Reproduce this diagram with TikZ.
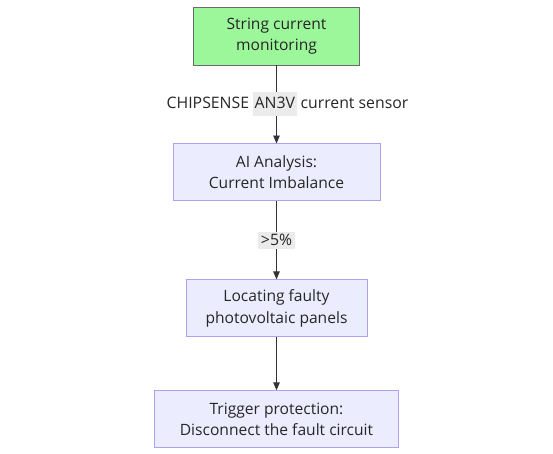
\documentclass[tikz,border=0pt]{standalone}
\usepackage{fontspec}
\setmainfont{Open Sans}
\usepackage{xcolor}
\usetikzlibrary{shapes,arrows,positioning,calc}
\definecolor{startgreen}{HTML}{9CF79A}
\definecolor{startline}{HTML}{6A6A6A}
\definecolor{boxfill}{HTML}{ECECFF}
\definecolor{boxline}{HTML}{B3A0EC}
\definecolor{linegray}{HTML}{333333}
\definecolor{labelgray}{HTML}{EBEBEB}
\newcommand{\codebit}[1]{{\setlength{\fboxsep}{1.5pt}\colorbox{labelgray}{\strut #1}}}

\begin{document}
\begin{tikzpicture}[
    x=1pt, y=-1pt,
    node distance=78pt,
    process/.style={rectangle, draw=boxline, fill=boxfill, line width=0.9pt, minimum height=57pt, align=center, font=\fontsize{15.6}{21.5}\selectfont, text=black!85},
    start/.style={process, draw=startline, fill=startgreen},
    edgelabel/.style={font=\fontsize{15.8}{21}\selectfont, text=black!85, inner sep=1pt},
    arrow/.style={-triangle 45, line width=0.8pt, draw=linegray}
]
    \useasboundingbox (0,0) rectangle (553,454);

    \node[start, minimum width=166pt, minimum height=58pt] (monitor) at (276.5,36) {String current\\monitoring};
    \node[process, below=of monitor, minimum width=207pt] (analysis) {AI Analysis:\\Current Imbalance};
    \node[process, below=of analysis, minimum width=181pt] (locate) {Locating faulty\\photovoltaic panels};
    \node[process, below=53pt of locate, minimum width=244pt] (protect) {Trigger protection:\\Disconnect the fault circuit};

    \draw[arrow] (monitor) -- node[edgelabel, xshift=11pt] {CHIPSENSE \codebit{AN3V} current sensor} (analysis);
    \draw[arrow] (analysis) -- node[edgelabel, fill=labelgray, inner sep=2.5pt] {>5\%} (locate);
    \draw[arrow] (locate) -- (protect);
\end{tikzpicture}
\end{document}
